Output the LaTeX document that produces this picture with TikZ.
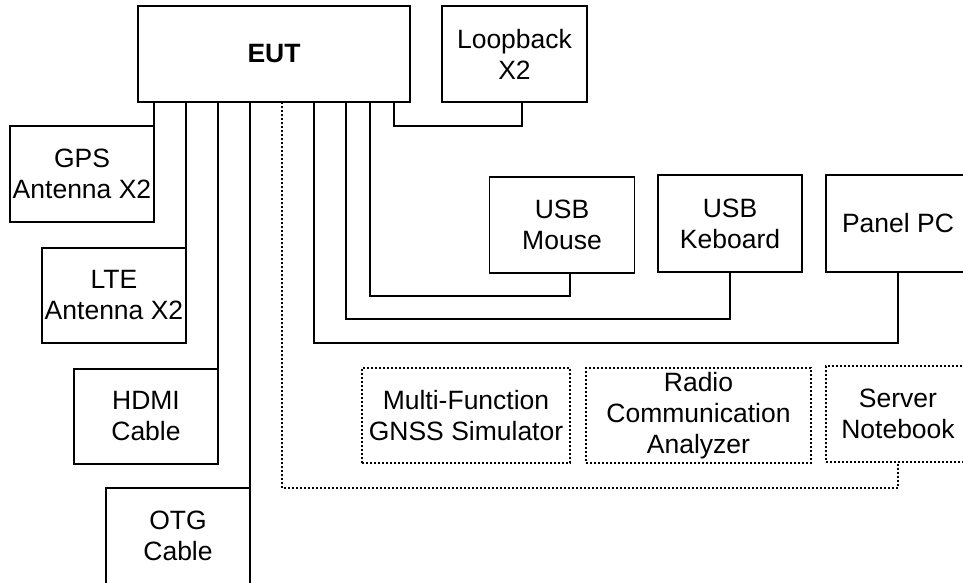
\documentclass[tikz,border=0pt]{standalone}
\usepackage{fontspec}
\setmainfont{Liberation Sans}
\usetikzlibrary{calc}
\begin{document}
\begin{tikzpicture}[x=1pt,y=-1pt,
  box/.style={draw=black,line width=1.5pt,fill=white,inner sep=0pt,outer sep=0pt,align=center,
    font=\fontsize{26.5}{31}\selectfont},
  dbox/.style={box,draw=black,line width=1.5pt,dash pattern=on 2pt off 2pt},
  wire/.style={line width=1.5pt,line cap=rect},
  dwire/.style={line width=1.5pt,dash pattern=on 2pt off 2pt}]
\useasboundingbox (0,0) rectangle (963,582);
\node[box,minimum width=272pt,minimum height=96pt,font=\fontsize{26.5}{31}\selectfont\bfseries] (EUT) at (274,54) {EUT};
\node[box,minimum width=145pt,minimum height=96pt] (Loop) at (514.5,54) {Loopback\\X2};
\node[box,minimum width=144pt,minimum height=96pt] (GPS) at (82,174) {GPS\\Antenna X2};
\node[box,minimum width=144pt,minimum height=95pt] (LTE) at (114,295.5) {LTE\\Antenna X2};
\node[box,minimum width=144pt,minimum height=95pt] (HDMI) at (146,416.5) {HDMI\\Cable};
\node[box,minimum width=144pt,minimum height=96pt] (OTG) at (178,536) {OTG\\Cable};
\node[box,minimum width=145pt,minimum height=96pt] (Mouse) at (562,225) {USB\\Mouse};
\node[box,minimum width=144pt,minimum height=97pt] (Key) at (730,223.5) {USB\\Keboard};
\node[box,minimum width=144pt,minimum height=97pt] (Panel) at (898,223.5) {Panel PC};
\node[dbox,minimum width=208pt,minimum height=95pt] (GNSS) at (466,415.5) {Multi-Function\\GNSS Simulator};
\node[dbox,minimum width=225pt,minimum height=95pt] (Radio) at (698.5,415.5) {Radio\\Communication\\Analyzer};
\node[dbox,minimum width=144pt,minimum height=96pt] (Server) at (898,414) {Server\\Notebook};
% connectors to left devices
\draw[wire] (GPS.north east) -- (GPS.north east |- EUT.south);
\draw[wire] (LTE.north east) -- (LTE.north east |- EUT.south);
\draw[wire] (HDMI.north east) -- (HDMI.north east |- EUT.south);
\draw[wire] (OTG.north east) -- (OTG.north east |- EUT.south);
% dotted connector to server
\draw[dwire] ([xshift=8pt]EUT.south) |- ([yshift=-26pt]Server.south) -- (Server.south);
% connectors to right devices
\draw[wire] ([xshift=40pt]EUT.south) |- ([yshift=-71pt]Panel.south) -- (Panel.south);
\draw[wire] ([xshift=72pt]EUT.south) |- ([yshift=-47pt]Key.south) -- (Key.south);
\draw[wire] ([xshift=96pt]EUT.south) |- ([xshift=8pt,yshift=-23pt]Mouse.south) -- ([xshift=8pt]Mouse.south);
\draw[wire] ([xshift=120pt]EUT.south) |- ([xshift=7.5pt,yshift=-24pt]Loop.south) -- ([xshift=7.5pt]Loop.south);
\end{tikzpicture}
\end{document}
